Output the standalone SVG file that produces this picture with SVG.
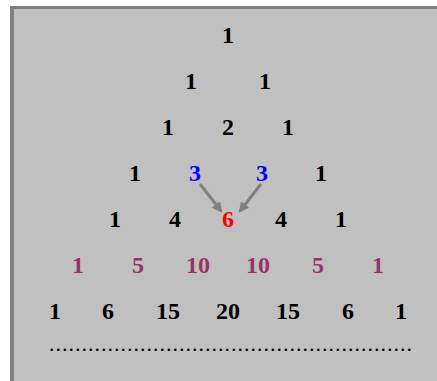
<svg xmlns="http://www.w3.org/2000/svg" width="437" height="381" viewBox="0 0 437 381">
<defs>
<style>
text{font-family:"Liberation Serif","Times New Roman",serif;font-weight:bold;font-size:24px;text-anchor:middle;fill:#000}
.b{fill:#0000ff}.r{fill:#ff0000}.p{fill:#993366}
.c{stroke:#808080;stroke-width:3;fill:none}
</style>
<marker id="ah" viewBox="0 0 10 10" refX="8" refY="5" markerWidth="3.5" markerHeight="3.5" orient="auto" markerUnits="strokeWidth">
<path d="M0,0L10,5L0,10z" fill="#808080"/>
</marker>
</defs>
<rect width="437" height="381" fill="#ffffff"/>
<rect x="10" y="6" width="427" height="375" fill="#c0c0c0"/>
<rect x="10" y="6" width="427" height="3" fill="#808080"/>
<rect x="10" y="6" width="4" height="375" fill="#808080"/>
<g id="connectors">
<line class="c" x1="200" y1="184" x2="221" y2="211" marker-end="url(#ah)"/>
<line class="c" x1="261" y1="184" x2="240" y2="211" marker-end="url(#ah)"/>
</g>
<g id="row1"><text x="228" y="43">1</text></g>
<g id="row2"><text x="191" y="89">1</text><text x="265" y="89">1</text></g>
<g id="row3"><text x="168" y="135">1</text><text x="228" y="135">2</text><text x="288" y="135">1</text></g>
<g id="row4"><text x="135" y="181">1</text><text class="b" x="195" y="181">3</text><text class="b" x="262" y="181">3</text><text x="321" y="181">1</text></g>
<g id="row5"><text x="115" y="227">1</text><text x="175" y="227">4</text><text class="r" x="228" y="227">6</text><text x="281" y="227">4</text><text x="341" y="227">1</text></g>
<g id="row6"><text class="p" x="78" y="273">1</text><text class="p" x="138" y="273">5</text><text class="p" x="198" y="273">10</text><text class="p" x="258" y="273">10</text><text class="p" x="318" y="273">5</text><text class="p" x="378" y="273">1</text></g>
<g id="row7"><text x="55" y="319">1</text><text x="108" y="319">6</text><text x="168" y="319">15</text><text x="228" y="319">20</text><text x="288" y="319">15</text><text x="348" y="319">6</text><text x="401" y="319">1</text></g>
<g id="dots"><text x="49" y="351" style="text-anchor:start;font-weight:normal;font-size:22px" textLength="363" lengthAdjust="spacing">........................................................</text></g>
</svg>
